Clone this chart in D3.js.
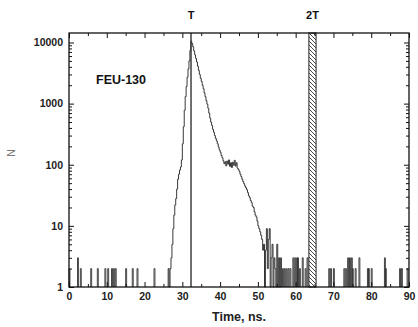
<!DOCTYPE html>
<html>
<head>
<meta charset="utf-8">
<script src="https://cdn.jsdelivr.net/npm/d3@7"></script>
<style>
  body { margin: 0; background: #fff; }
  text { font-family: "Liberation Sans", Arial, sans-serif; }
</style>
</head>
<body>
<svg id="chart" width="418" height="327"></svg>
<script>
// histogram bins (ns)
const binWidth = 0.25;
const pulseStart = 26.25;
const pulseCounts = [
  2, 1, 2, 3, 5, 9, 15, 22,
  28, 40, 58, 70, 82, 92, 120, 220,
  420, 780, 1300, 1900, 2700, 3700, 5000, 7400,
  10500, 9600, 8500, 7300, 6300, 5500, 4800, 4100,
  3500, 3000, 2600, 2300, 2000, 1750, 1500, 1300,
  1120, 980, 840, 700, 580, 500, 440, 380,
  340, 300, 270, 245, 220, 195, 175, 160,
  142, 130, 116, 104, 112, 96, 115, 102,
  120, 94, 108, 90, 110, 98, 118, 95,
  108, 88, 84, 78, 70, 64, 58, 53,
  49, 45, 42, 39, 35, 31, 29, 26,
  24, 21, 20, 17, 15, 14, 12, 10,
  9, 8, 7, 6, 4, 5, 1, 4,
  9, 2, 6, 9, 1, 3, 5, 1,
  3, 2, 1, 5, 1, 3, 1
];

// isolated background counts
const spikeTimes = [
  0, 2.25, 3, 5.75, 7.5, 9.5, 10.25, 11.25, 11.75, 12.25, 15, 16.75, 18, 22.5,
  56, 56.5, 57, 57.5, 58, 58.5, 59.25, 59.75, 60.25, 60.5, 61, 61.75, 62.5, 63,
  68.75, 69.25, 70, 72.75, 73.25, 73.75, 74.25, 74.75, 75, 75.75, 76.75,
  79, 79.25, 80, 83.5, 83.75, 87.5, 88, 89.5
];
const spikeCounts = [
  2, 3, 2, 2, 2, 2, 2, 2, 2, 2, 2, 2, 2, 2,
  3, 2, 2, 2, 2, 2, 3, 3, 3, 3, 2, 3, 2, 3,
  2, 2, 2, 2, 2, 3, 3, 3, 2, 2, 3,
  2, 2, 2, 3, 2, 2, 2, 2
];

const markerTimes = [32.3];
const markerLabels = ['T'];
const bandTimes = [63.5, 65.4];
const bandLabel = '2T';
const sampleName = 'FEU-130';
const xTicks = [0, 10, 20, 30, 40, 50, 60, 70, 80, 90];
const xMinorTicks = [5, 15, 25, 35, 45, 55, 65, 75, 85];
const yTicks = [1, 10, 100, 1000, 10000];
const xTitle = 'Time, ns.';
const yTitle = 'N';

const plotL = 69, plotR = 409, plotT = 33, plotB = 287;

const svg = d3.select('#chart');

const x = d3.scaleLinear().domain([0, 90]).range([plotL, plotR]);
const y = d3.scaleLog().domain([1, 14300]).range([plotB, plotT]);
const yMinor = y.ticks().filter(v => !yTicks.includes(v));

const defs = svg.append('defs');
const pat = defs.append('pattern')
  .attr('id', 'hatch')
  .attr('patternUnits', 'userSpaceOnUse')
  .attr('width', 4)
  .attr('height', 4);
pat.append('rect').attr('width', 4).attr('height', 4).attr('fill', '#fff');
pat.append('path')
  .attr('d', 'M-1,-1 L5,5 M3,-1 L5,1 M-1,3 L1,5')
  .attr('stroke', '#333')
  .attr('stroke-width', 0.9);

// step histogram
const line = d3.line()
  .x(d => x(d[0]))
  .y(d => y(Math.max(1, d[1])))
  .curve(d3.curveStepAfter);

const pulsePts = [[pulseStart, 1]];
pulseCounts.forEach((c, i) => pulsePts.push([pulseStart + i * binWidth, c]));
pulsePts.push([pulseStart + pulseCounts.length * binWidth, 1]);

svg.append('path')
  .datum(pulsePts)
  .attr('fill', 'none')
  .attr('stroke', '#222')
  .attr('stroke-width', 0.9)
  .attr('d', line);

svg.append('g')
  .selectAll('path')
  .data(spikeTimes.map((t, i) => [[t, 1], [t, spikeCounts[i]], [t + binWidth, 1]]))
  .enter()
  .append('path')
  .attr('fill', 'none')
  .attr('stroke', '#333')
  .attr('stroke-width', 0.9)
  .attr('d', line);

// T marker
svg.selectAll('.marker')
  .data(markerTimes)
  .enter()
  .append('line')
  .attr('class', 'marker')
  .attr('x1', d => x(d)).attr('x2', d => x(d))
  .attr('y1', plotT).attr('y2', plotB)
  .attr('stroke', '#333')
  .attr('stroke-width', 1.4);

svg.selectAll('.marker-label')
  .data(markerTimes)
  .enter()
  .append('text')
  .attr('class', 'marker-label')
  .attr('x', d => x(d))
  .attr('y', 19)
  .attr('text-anchor', 'middle')
  .attr('font-size', 11)
  .attr('font-weight', 'bold')
  .attr('fill', '#111')
  .text((d, i) => markerLabels[i]);

// 2T band
svg.append('rect')
  .attr('x', x(bandTimes[0]))
  .attr('y', plotT)
  .attr('width', x(bandTimes[1]) - x(bandTimes[0]))
  .attr('height', plotB - plotT)
  .attr('fill', 'url(#hatch)')
  .attr('stroke', '#222')
  .attr('stroke-width', 1);

svg.append('text')
  .attr('x', x((bandTimes[0] + bandTimes[1]) / 2))
  .attr('y', 19)
  .attr('text-anchor', 'middle')
  .attr('font-size', 11)
  .attr('font-weight', 'bold')
  .attr('fill', '#111')
  .text(bandLabel);

// axes
function styleAxis(g) {
  g.select('.domain').remove();
  g.selectAll('.tick line').attr('stroke', '#111').attr('stroke-width', 1);
  g.selectAll('.tick text')
    .attr('font-size', 10.5)
    .attr('font-weight', 'bold')
    .attr('fill', '#222')
    .style('font-family', '"Liberation Sans", Arial, sans-serif');
}

svg.append('g')
  .attr('transform', `translate(0, ${plotB})`)
  .call(d3.axisBottom(x).tickValues(xTicks).tickSizeInner(-5).tickSizeOuter(0).tickPadding(6))
  .call(styleAxis);
svg.append('g')
  .attr('transform', `translate(0, ${plotB})`)
  .call(d3.axisBottom(x).tickValues(xMinorTicks).tickSizeInner(-3).tickSizeOuter(0).tickFormat(''))
  .call(styleAxis);
svg.append('g')
  .attr('transform', `translate(0, ${plotT})`)
  .call(d3.axisTop(x).tickValues(xTicks).tickSizeInner(-5).tickSizeOuter(0).tickFormat(''))
  .call(styleAxis);
svg.append('g')
  .attr('transform', `translate(0, ${plotT})`)
  .call(d3.axisTop(x).tickValues(xMinorTicks).tickSizeInner(-3).tickSizeOuter(0).tickFormat(''))
  .call(styleAxis);

svg.append('g')
  .attr('transform', `translate(${plotL}, 0)`)
  .call(d3.axisLeft(y).tickValues(yTicks).tickFormat(d3.format('d')).tickSizeInner(-5).tickSizeOuter(0).tickPadding(6))
  .call(styleAxis);
svg.append('g')
  .attr('transform', `translate(${plotL}, 0)`)
  .call(d3.axisLeft(y).tickValues(yMinor).tickFormat('').tickSizeInner(-3).tickSizeOuter(0))
  .call(styleAxis);
svg.append('g')
  .attr('transform', `translate(${plotR}, 0)`)
  .call(d3.axisRight(y).tickValues(yTicks).tickFormat('').tickSizeInner(-5).tickSizeOuter(0))
  .call(styleAxis);
svg.append('g')
  .attr('transform', `translate(${plotR}, 0)`)
  .call(d3.axisRight(y).tickValues(yMinor).tickFormat('').tickSizeInner(-3).tickSizeOuter(0))
  .call(styleAxis);

// frame
svg.append('rect')
  .attr('x', plotL).attr('y', plotT)
  .attr('width', plotR - plotL).attr('height', plotB - plotT)
  .attr('fill', 'none')
  .attr('stroke', '#111')
  .attr('stroke-width', 1.3);

// titles
svg.append('text')
  .attr('x', (plotL + plotR) / 2)
  .attr('y', 321)
  .attr('text-anchor', 'middle')
  .attr('font-size', 12.5)
  .attr('font-weight', 'bold')
  .attr('fill', '#222')
  .text(xTitle);

svg.append('text')
  .attr('transform', 'translate(15, 153) rotate(-90)')
  .attr('text-anchor', 'middle')
  .attr('font-size', 10.5)
  .attr('fill', '#777')
  .text(yTitle);

svg.append('text')
  .attr('x', 96)
  .attr('y', 84)
  .attr('font-size', 12.5)
  .attr('font-weight', 'bold')
  .attr('fill', '#111')
  .text(sampleName);
</script>
</body>
</html>
